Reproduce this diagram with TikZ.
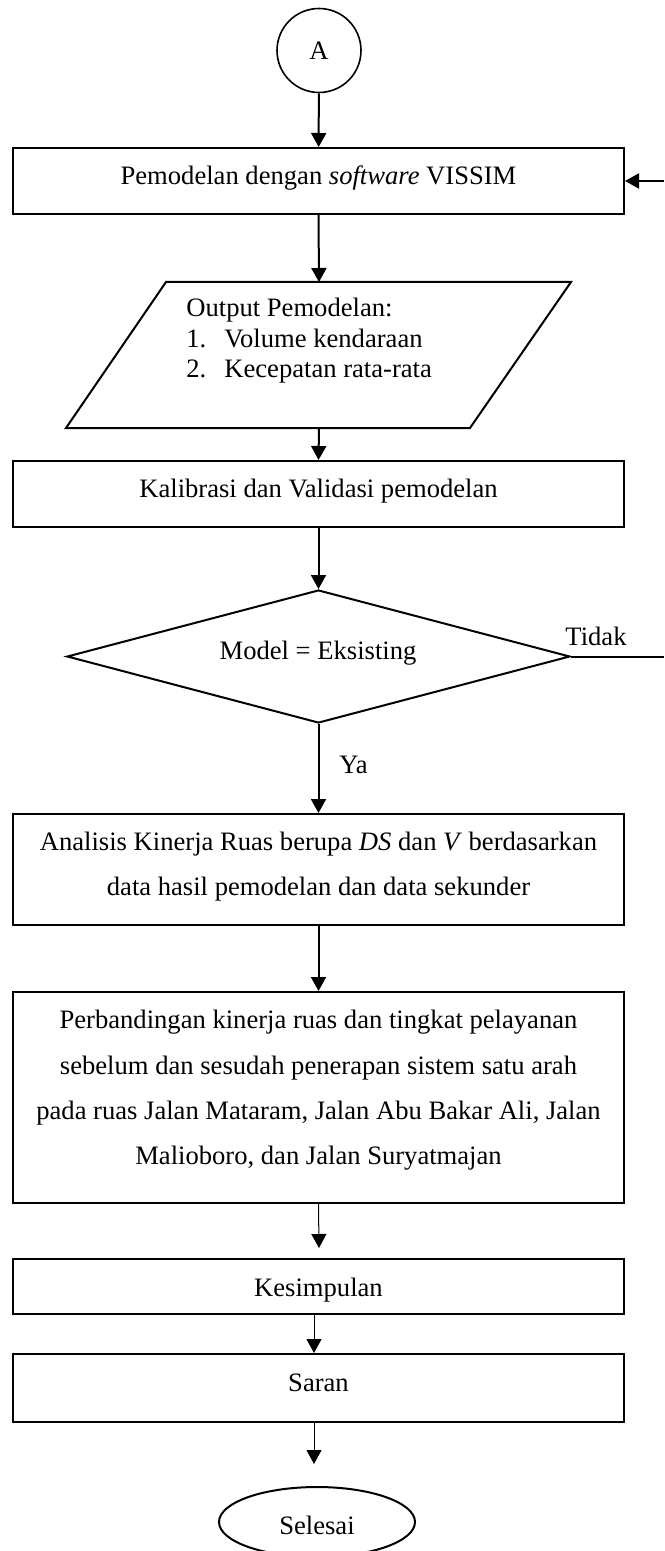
\documentclass[tikz,border=0pt]{standalone}
\usepackage{fontspec}
\setmainfont{Liberation Serif}
\usetikzlibrary{arrows.meta,shapes.geometric}
\begin{document}
\begin{tikzpicture}[x=0.5pt,y=-0.5pt,
  every node/.style={font=\fontsize{13.3}{15}\selectfont},
  box/.style={draw,line width=1pt,minimum width=305.5pt,inner sep=0pt,align=center},
  arr/.style={line width=1pt,-{Triangle[length=7pt,width=7.5pt]}},
  thinarr/.style={line width=0.5pt,-{Triangle[length=7pt,width=7.5pt]}},
  lbl/.style={inner sep=0pt}]
\useasboundingbox (0,0) rectangle (664,1551);
% start connector
\node[circle,draw,line width=0.8pt,minimum size=42pt,inner sep=0pt] (A) at (319,50.5) {A};
% box 1
\node[box,minimum height=33pt,text height=9pt,text depth=5pt] (b1) at (318.5,181) {Pemodelan dengan \textit{software} VISSIM};
% parallelogram
\draw[line width=1pt] (166,282) -- (571,282) -- (470,428) -- (66,428) -- cycle;
\coordinate (pTop) at (319,282);
\coordinate (pBot) at (319,428);
\node[lbl,anchor=west,align=left,font=\fontsize{13.3}{15.25}\selectfont] (ptext) at (186,341)
  {Output Pemodelan:\\\makebox[19pt][l]{1.}Volume kendaraan\\\makebox[19pt][l]{2.}Kecepatan rata-rata};
% box 2
\node[box,minimum height=33pt,text height=9pt,text depth=5.7pt] (b2) at (318.5,494) {Kalibrasi dan Validasi pemodelan};
% decision
\node[diamond,draw,line width=1pt,minimum width=251.5pt,minimum height=66.5pt,inner sep=0pt] (d) at (318.5,656.5) {};
\node[lbl,anchor=base] (dt) at (318,659) {Model = Eksisting};
\node[lbl,anchor=base] (tidak) at (596,645) {Tidak};
\node[lbl,anchor=base] (ya) at (353.5,773) {Ya};
\coordinate (tR) at (664,656.5);
\coordinate (lR) at (664,181);
% box 3
\node[box,minimum height=55.5pt,font=\fontsize{13.3}{22.5}\selectfont] (b3) at (318.5,869.5)
  {Analisis Kinerja Ruas berupa \textit{DS} dan \textit{V} berdasarkan\\data hasil pemodelan dan data sekunder\rule[-6.2pt]{0pt}{0pt}};
% box 4
\node[box,minimum height=105.5pt,font=\fontsize{13.3}{22.65}\selectfont] (b4) at (318.5,1097.5)
  {Perbandingan kinerja ruas dan tingkat pelayanan\\sebelum dan sesudah penerapan sistem satu arah\\pada ruas Jalan Mataram, Jalan Abu Bakar Ali, Jalan\\Malioboro, dan Jalan Suryatmajan\rule[-9.8pt]{0pt}{0pt}};
% box 5, 6
\node[box,minimum height=27.5pt,text height=9.5pt,text depth=0pt] (b5) at (318.5,1286.5) {Kesimpulan};
\node[box,minimum height=34pt,text height=9pt,text depth=6pt] (b6) at (318.5,1388) {Saran};
% end
\node[ellipse,draw,line width=1pt,minimum width=98pt,minimum height=35pt,inner sep=0pt,text height=12pt,text depth=0pt] (end) at (317,1522) {Selesai};
\coordinate (xs) at (314,0);
\coordinate (k5in) at (319,1248);
\coordinate (endin) at (314,1464);
% connectors
\draw[arr] (A) -- (b1);
\draw[arr] (lR) -- (b1.east);
\draw[arr] (b1.south) -- (pTop);
\draw[arr] (pBot) -- (b2.north);
\draw[arr] (b2.south) -- (d.north);
\draw[line width=1pt] (d.east) -- (tR);
\draw[arr] (d.south) -- (b3.north);
\draw[arr] (b3.south) -- (b4.north);
\draw[thinarr] (b4.south) -- (k5in);
\draw[thinarr] (b5.south -| xs) -- (b6.north -| xs);
\draw[thinarr] (b6.south -| xs) -- (endin);
\end{tikzpicture}
\end{document}
